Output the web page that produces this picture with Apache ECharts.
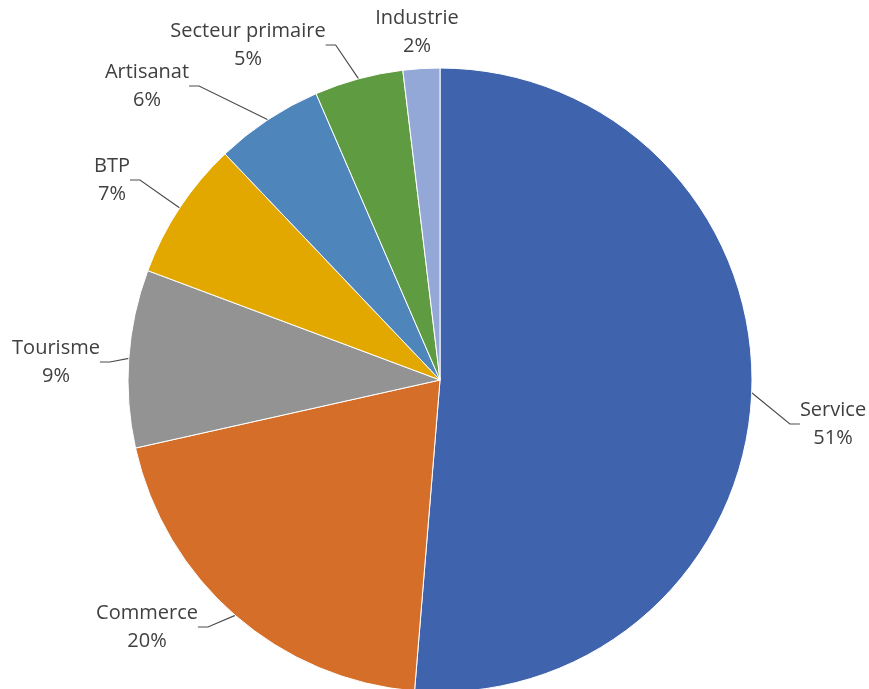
<!DOCTYPE html>
<html><head><meta charset="utf-8">
<script src="https://cdn.jsdelivr.net/npm/echarts@6/dist/echarts.min.js"></script>
<style>html,body{margin:0;padding:0;background:#fff}#c{width:869px;height:689px}</style>
</head><body><div id="c"></div>
<script>
const categories = ['Service','Commerce','Tourisme','BTP','Artisanat','Secteur primaire','Industrie'];
const values = [51.3,20.2,9.2,7.2,5.6,4.6,1.9];
const colors = ['#3F64AD','#D46E29','#939393','#E2A800','#4E86BC','#5F9B40','#94A8D8'];
// label centre positions (layout only)
const labelPos = [[833,424],[147,627],[56,362],[112,180],[147,86],[248,45],[417,32]];

const chart = echarts.init(document.getElementById('c'), null, {renderer:'canvas'});
chart.setOption({
  animation:false,
  series:[{
    type:'pie',
    center:[440,380],
    radius:312,
    startAngle:90,
    clockwise:true,
    avoidLabelOverlap:false,
    itemStyle:{borderColor:'#fff',borderWidth:1},
    label:{
      show:true,position:'outside',
      formatter: p => p.name + '\n' + Math.round(p.value) + '%',
      fontFamily:'Open Sans',fontSize:20,lineHeight:28,color:'#404040',align:'center'
    },
    labelLine:{show:true,length:20,length2:10,lineStyle:{color:'#4d4d4d',width:1.2}},
    labelLayout: function(p){
      const pos = labelPos[p.dataIndex];
      return {x:pos[0],y:pos[1],align:'center',verticalAlign:'middle'};
    },
    data: categories.map((c,i)=>({
      name:c,value:values[i],itemStyle:{color:colors[i]},
      labelLine: i===6 ? {show:false} : undefined
    }))
  }]
});
</script></body></html>
